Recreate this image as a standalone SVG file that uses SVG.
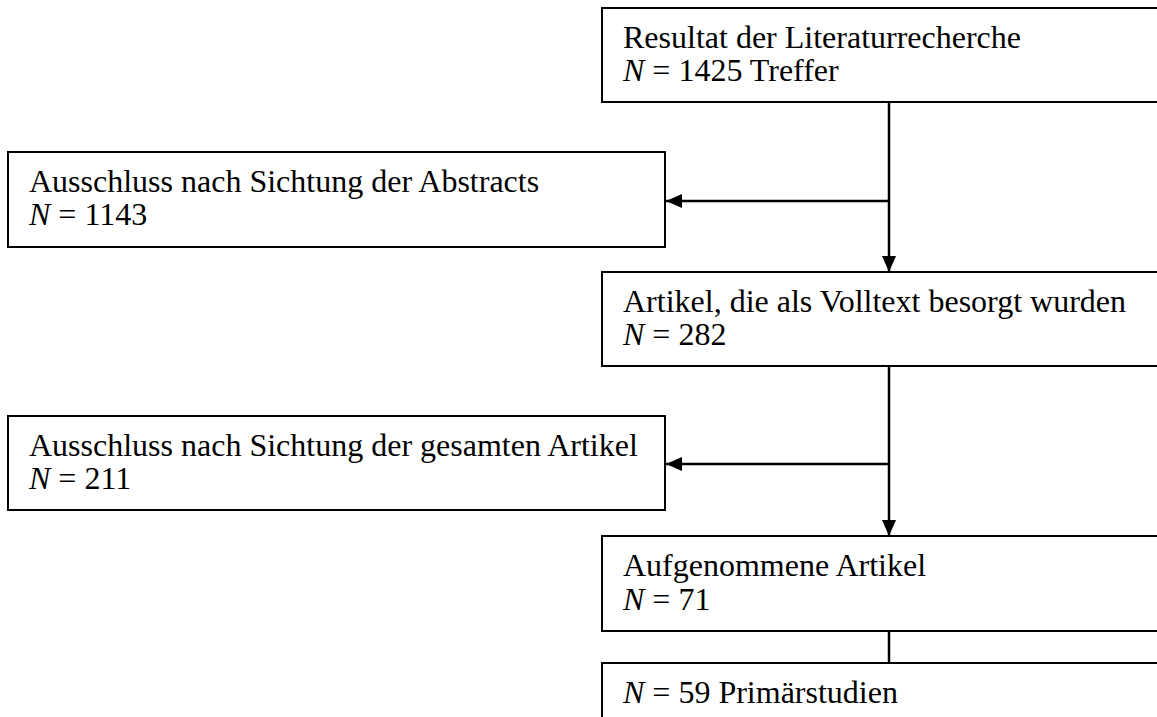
<svg xmlns="http://www.w3.org/2000/svg" width="1157" height="717" viewBox="0 0 1157 717">
<style>
.box{fill:#fff;stroke:#000;stroke-width:2}
.t{font-family:"Liberation Serif","Times New Roman",serif;font-size:32px;fill:#000}
.i{font-style:italic}
.c{fill:none;stroke:#000;stroke-width:2.5}
</style>
<defs>
<marker id="ah" markerWidth="16" markerHeight="14" refX="16" refY="7" orient="auto" markerUnits="userSpaceOnUse">
<path d="M0,0 L16,7 L0,14 Z" fill="#000"/>
</marker>
</defs>
<rect width="1157" height="717" fill="#fff"/>
<g id="connectors">
<line class="c" x1="889" y1="102" x2="889" y2="272" marker-end="url(#ah)"/>
<line class="c" x1="889" y1="201" x2="666" y2="201" marker-end="url(#ah)"/>
<line class="c" x1="889" y1="366" x2="889" y2="536" marker-end="url(#ah)"/>
<line class="c" x1="889" y1="464" x2="666" y2="464" marker-end="url(#ah)"/>
<line class="c" x1="889" y1="631" x2="889" y2="663"/>
</g>
<g id="n1">
<rect class="box" x="602" y="8" width="600" height="94"/>
<text class="t" x="623" y="48">Resultat der Literaturrecherche</text>
<text class="t" x="623" y="81"><tspan class="i">N</tspan> = 1425 Treffer</text>
</g>
<g id="n2">
<rect class="box" x="8" y="152" width="657" height="95"/>
<text class="t" x="29" y="192">Ausschluss nach Sichtung der Abstracts</text>
<text class="t" x="29" y="225"><tspan class="i">N</tspan> = 1143</text>
</g>
<g id="n3">
<rect class="box" x="602" y="272" width="600" height="94"/>
<text class="t" x="623" y="312">Artikel, die als Volltext besorgt wurden</text>
<text class="t" x="623" y="345"><tspan class="i">N</tspan> = 282</text>
</g>
<g id="n4">
<rect class="box" x="8" y="416" width="657" height="94"/>
<text class="t" x="29" y="456">Ausschluss nach Sichtung der gesamten Artikel</text>
<text class="t" x="29" y="489"><tspan class="i">N</tspan> = 211</text>
</g>
<g id="n5">
<rect class="box" x="602" y="536" width="600" height="95"/>
<text class="t" x="623" y="576">Aufgenommene Artikel</text>
<text class="t" x="623" y="610"><tspan class="i">N</tspan> = 71</text>
</g>
<g id="n6">
<rect class="box" x="602" y="663" width="600" height="80"/>
<text class="t" x="623" y="703"><tspan class="i">N</tspan> = 59 Primärstudien</text>
</g>
</svg>
